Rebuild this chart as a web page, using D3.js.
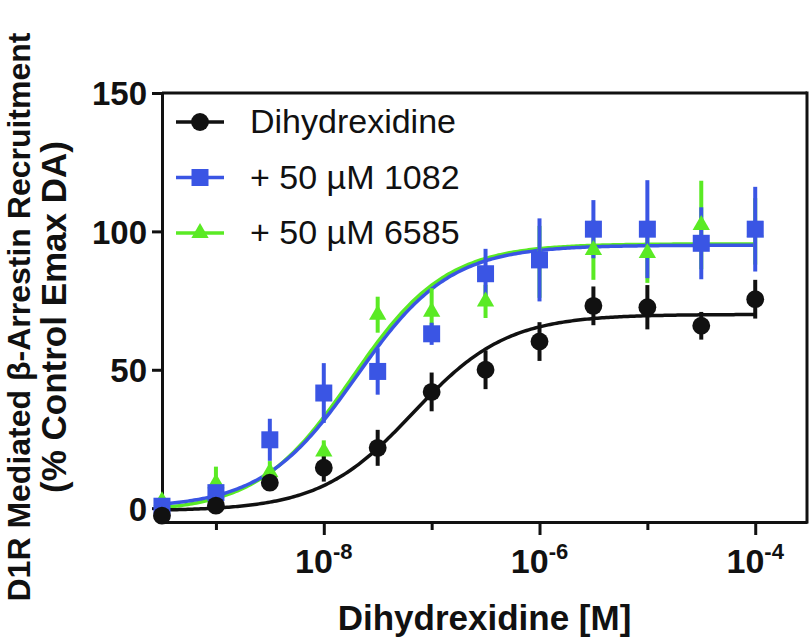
<!DOCTYPE html>
<html>
<head>
<meta charset="utf-8">
<script src="https://cdn.jsdelivr.net/npm/d3@7"></script>
<style>
  body { margin: 0; background: #fff; }
  text { font-family: "Liberation Sans", Arial, Helvetica, sans-serif; fill: #111; }
</style>
</head>
<body>
<div id="chart"></div>
<script>
/* Data */

var concentrations = [3.16e-10, 1e-9, 3.16e-9, 1e-8, 3.16e-8, 1e-7, 3.16e-7, 1e-6, 3.16e-6, 1e-5, 3.16e-5, 1e-4];

var seriesNames = ["Dihydrexidine", "+ 50 \u00B5M 1082", "+ 50 \u00B5M 6585"];

var meanDhx  = [-2.7, 0.9, 9.2, 14.6, 21.8, 42.0, 50.0, 60.2, 73.1, 72.6, 65.9, 75.5];
var semDhx   = [1.0, 1.5, 3.0, 5.0, 6.5, 7.0, 7.0, 7.0, 7.0, 8.0, 5.0, 7.0];
var mean1082 = [0.7, 5.6, 24.7, 41.6, 49.4, 63.0, 84.7, 89.7, 100.8, 100.8, 95.7, 100.8];
var sem1082  = [1.5, 3.0, 7.6, 10.8, 8.4, 4.0, 9.0, 15.0, 10.5, 17.7, 13.0, 15.3];
var mean6585 = [2.5, 9.0, 13.0, 20.5, 69.9, 71.0, 74.7, 89.0, 93.3, 92.2, 102.3, 100.0];
var sem6585  = [2.0, 6.0, 4.0, 4.0, 6.5, 8.5, 6.0, 13.0, 10.8, 10.8, 16.0, 12.0];

// fitted 4-parameter logistic (one per series)
var fitBottom  = [-1.0, 0.0, -1.5];
var fitTop     = [70.0, 95.0, 95.5];
var fitLogEC50 = [-7.17, -7.70, -7.74];
var fitHill    = [1, 1, 1];

var yTicks = [0, 50, 100, 150];
var xMajorTicks = [1e-9, 1e-8, 1e-7, 1e-6, 1e-5, 1e-4];
var xLabelExp = [-8, -6, -4];

var colors = ["#111111", "#3a55e4", "#5aea24"];
var shapes = [d3.symbolCircle, d3.symbolSquare, d3.symbolTriangle];
var shapeSize = [250, 289, 130];

var means = [meanDhx, mean1082, mean6585];
var sems = [semDhx, sem1082, sem6585];

/* Layout */

var width = 810,
    height = 639;
var plotLeft = 162, plotRight = 807, plotTop = 93, plotBottom = 522;

var svg = d3.select("#chart").append("svg")
    .attr("width", width)
    .attr("height", height);

var x = d3.scaleLog().domain([Math.pow(10, -9.5), Math.pow(10, -3.52)]).range([plotLeft, plotRight]);
var y = d3.scaleLinear().domain([-5, 150]).range([plotBottom, plotTop]);

/* ------- AXES ------- */
var yAxis = svg.append("g")
    .attr("transform", "translate(" + plotLeft + ",0)")
    .call(d3.axisLeft(y).tickValues(yTicks).tickSize(10).tickSizeOuter(0).tickPadding(5));
yAxis.selectAll("line, path").attr("stroke", "#111").attr("stroke-width", 3);
yAxis.selectAll("text")
    .style("font-size", "33px")
    .style("font-weight", "bold")
    .attr("dy", "0.36em");

var xAxis = svg.append("g")
    .attr("transform", "translate(0," + plotBottom + ")")
    .call(d3.axisBottom(x).tickValues(xMajorTicks).tickSizeOuter(0).tickFormat(""));
xAxis.selectAll("path").attr("stroke", "#111").attr("stroke-width", 3);
xAxis.selectAll(".tick line")
    .attr("stroke", "#111")
    .attr("stroke-width", 3)
    .attr("y2", function(d) { return xLabelExp.indexOf(Math.round(Math.log10(d))) >= 0 ? 13 : 8; });

xLabelExp.forEach(function(e) {
    var t = svg.append("text")
        .attr("x", x(Math.pow(10, e)))
        .attr("y", 573)
        .attr("text-anchor", "middle")
        .style("font-size", "34px")
        .style("font-weight", "bold");
    t.append("tspan").text("10");
    t.append("tspan").attr("dy", -14).style("font-size", "22px").text(String(e));
});

// frame (top and right)
svg.append("line").attr("x1", plotLeft).attr("x2", plotRight).attr("y1", plotTop).attr("y2", plotTop)
    .attr("stroke", "#111").attr("stroke-width", 3);
svg.append("line").attr("x1", plotRight).attr("x2", plotRight).attr("y1", plotTop - 1.5).attr("y2", plotBottom + 1.5)
    .attr("stroke", "#111").attr("stroke-width", 3);

/* ------- TITLES ------- */
svg.append("text")
    .attr("x", (plotLeft + plotRight) / 2)
    .attr("y", 630)
    .attr("text-anchor", "middle")
    .style("font-size", "35px")
    .style("font-weight", "bold")
    .text("Dihydrexidine [M]");

var yTitle = svg.append("text")
    .attr("transform", "translate(0,317) rotate(-90)")
    .attr("text-anchor", "middle")
    .style("font-weight", "bold");
yTitle.append("tspan").attr("x", 0).attr("y", 30).style("font-size", "32px").text("D1R Mediated \u03B2-Arrestin Recruitment");
yTitle.append("tspan").attr("x", 0).attr("y", 66).style("font-size", "35px").text("(% Control Emax DA)");

/* ------- FIT CURVES ------- */
var curveX = d3.range(-9.5, -3.999, 0.02);
var line = d3.line()
    .x(function(d) { return x(Math.pow(10, d[0])); })
    .y(function(d) { return y(d[1]); });

[2, 1, 0].forEach(function(s) {
    var pts = curveX.map(function(lx) {
        var v = fitBottom[s] + (fitTop[s] - fitBottom[s]) / (1 + Math.pow(10, (fitLogEC50[s] - lx) * fitHill[s]));
        return [lx, v];
    });
    svg.append("path")
        .datum(pts)
        .attr("d", line)
        .attr("fill", "none")
        .attr("stroke", colors[s])
        .attr("stroke-width", 3.5);
});

/* ------- ERROR BARS ------- */
[2, 1, 0].forEach(function(s) {
    svg.append("g").selectAll("line")
        .data(concentrations)
        .enter()
        .append("line")
        .attr("x1", function(d) { return x(d); })
        .attr("x2", function(d) { return x(d); })
        .attr("y1", function(d, i) { return y(means[s][i] - sems[s][i]); })
        .attr("y2", function(d, i) { return y(means[s][i] + sems[s][i]); })
        .attr("stroke", colors[s])
        .attr("stroke-width", 4);
});

/* ------- MARKERS ------- */
[2, 1, 0].forEach(function(s) {
    svg.append("g").selectAll("path")
        .data(concentrations)
        .enter()
        .append("path")
        .attr("d", d3.symbol().type(shapes[s]).size(shapeSize[s]))
        .attr("transform", function(d, i) { return "translate(" + x(d) + "," + y(means[s][i]) + ")"; })
        .attr("fill", colors[s]);
});

/* ------- LEGEND ------- */
var legend = svg.append("g").selectAll("g")
    .data(seriesNames)
    .enter()
    .append("g")
    .attr("transform", function(d, i) { return "translate(0," + (122 + i * 55.5) + ")"; });
legend.append("line")
    .attr("x1", 176).attr("x2", 224)
    .attr("stroke", function(d, i) { return colors[i]; })
    .attr("stroke-width", 3.5);
legend.append("path")
    .attr("d", function(d, i) { return d3.symbol().type(shapes[i]).size(shapeSize[i])(); })
    .attr("transform", "translate(200,0)")
    .attr("fill", function(d, i) { return colors[i]; });
legend.append("text")
    .attr("x", 250)
    .attr("y", 11)
    .style("font-size", "34px")
    .text(function(d) { return d; });
</script>
</body>
</html>
